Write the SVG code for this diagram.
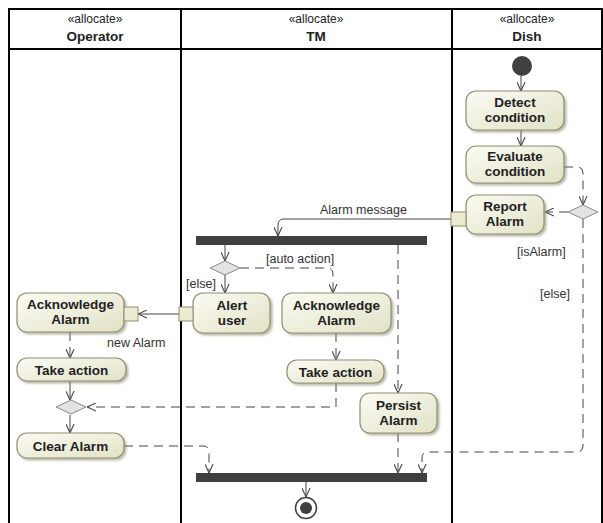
<svg xmlns="http://www.w3.org/2000/svg" width="603" height="523" viewBox="0 0 603 523">
<defs>
<linearGradient id="g" x1="0" y1="0" x2="1" y2="1">
<stop offset="0" stop-color="#fbfbf4"/>
<stop offset="1" stop-color="#e2e2c6"/>
</linearGradient>
<marker id="a" viewBox="0 0 10 10" refX="10" refY="5" markerWidth="9" markerHeight="9" markerUnits="userSpaceOnUse" orient="auto">
<path d="M0,0.5 L10,5 L0,9.5" fill="none" stroke="#444" stroke-width="1.2"/>
</marker>
<filter id="sh" x="-10%" y="-10%" width="130%" height="140%">
<feDropShadow dx="2" dy="2" stdDeviation="1" flood-color="#8a8a70" flood-opacity="0.6"/>
</filter>
</defs>
<style>
.frame{fill:none;stroke:#000;stroke-width:2}
.st{font-family:"Liberation Sans",Arial,sans-serif;font-size:12px;fill:#222;text-anchor:middle}
.ln{font-family:"Liberation Sans",Arial,sans-serif;font-size:13.5px;font-weight:bold;fill:#222;text-anchor:middle}
.act{fill:url(#g);stroke:#8f8f72;stroke-width:1.2;filter:url(#sh)}
.nt{font-family:"Liberation Sans",Arial,sans-serif;font-size:13.5px;font-weight:bold;fill:#222;text-anchor:middle}
.lbl{font-family:"Liberation Sans",Arial,sans-serif;font-size:12.5px;fill:#333}
.cf{fill:none;stroke:#444;stroke-width:1;stroke-dasharray:9,6}
.of{fill:none;stroke:#444;stroke-width:1}
.bar{fill:#404040}
.dec{fill:#e2e2e2;stroke:#8a8a8a;stroke-width:1}
.pin{fill:#ecebd2;stroke:#8f8f72;stroke-width:1}
</style>
<rect x="0" y="0" width="603" height="523" fill="#fff"/>
<g id="frame">
<path class="frame" d="M9,523 V9 H602 V523"/>
<line class="frame" x1="9" y1="49" x2="602" y2="49"/>
<line class="frame" x1="181" y1="9" x2="181" y2="523"/>
<line class="frame" x1="452" y1="9" x2="452" y2="523"/>
<text class="st" x="95" y="23">«allocate»</text>
<text class="ln" x="95" y="41">Operator</text>
<text class="st" x="316" y="23">«allocate»</text>
<text class="ln" x="316" y="41">TM</text>
<text class="st" x="527" y="23">«allocate»</text>
<text class="ln" x="527" y="41">Dish</text>
</g>
<g id="connectors">
<line class="of" x1="521" y1="76" x2="521" y2="91" marker-end="url(#a)"/>
<line class="of" x1="521" y1="130" x2="521" y2="146" marker-end="url(#a)"/>
<path class="cf" d="M564,167 H577 Q583,167 583,173 V205" marker-end="url(#a)"/>
<path class="cf" d="M568,212 H545" marker-end="url(#a)"/>
<path class="cf" d="M583,219 V446 Q583,452 577,452 H428 Q422,452 422,458 V473" marker-end="url(#a)"/>
<path class="of" d="M451,219 H284 Q278,219 278,225 V236" marker-end="url(#a)"/>
<line class="of" x1="225" y1="245" x2="225" y2="261" marker-end="url(#a)"/>
<path class="cf" d="M240,268 H327 Q333,268 333,274 V293" marker-end="url(#a)"/>
<line class="of" x1="225" y1="275" x2="225" y2="293" marker-end="url(#a)"/>
<line class="cf" x1="398" y1="245" x2="398" y2="393" marker-end="url(#a)"/>
<line class="of" x1="179" y1="314" x2="138" y2="314" marker-end="url(#a)"/>
<line class="cf" x1="70" y1="332" x2="70" y2="358" marker-end="url(#a)"/>
<line class="cf" x1="336" y1="333" x2="336" y2="360" marker-end="url(#a)"/>
<line class="of" x1="70" y1="381" x2="70" y2="400" marker-end="url(#a)"/>
<path class="cf" d="M336,383 V407 H87" marker-end="url(#a)"/>
<line class="of" x1="70" y1="415" x2="70" y2="433" marker-end="url(#a)"/>
<path class="cf" d="M124,446 H203 Q209,446 209,452 V473" marker-end="url(#a)"/>
<line class="cf" x1="398" y1="433" x2="398" y2="473" marker-end="url(#a)"/>
<line class="of" x1="306" y1="482" x2="306" y2="497" marker-end="url(#a)"/>
<text class="lbl" x="320" y="214">Alarm message</text>
<text class="lbl" x="266" y="263">[auto action]</text>
<text class="lbl" x="186" y="288">[else]</text>
<text class="lbl" x="107" y="347">new Alarm</text>
<text class="lbl" x="517" y="256">[isAlarm]</text>
<text class="lbl" x="540" y="298">[else]</text>
</g>
<g id="initial"><circle cx="522" cy="66" r="10" fill="#404040"/></g>
<g id="detect">
<rect class="act" x="466" y="91" width="98" height="39" rx="10"/>
<text class="nt" x="515" y="107">Detect</text>
<text class="nt" x="515" y="122">condition</text>
</g>
<g id="evaluate">
<rect class="act" x="466" y="146" width="98" height="37" rx="10"/>
<text class="nt" x="515" y="161">Evaluate</text>
<text class="nt" x="515" y="176">condition</text>
</g>
<g id="report">
<rect class="act" x="466" y="195" width="78" height="39" rx="10"/>
<rect class="pin" x="451" y="212" width="15" height="14"/>
<text class="nt" x="505" y="211">Report</text>
<text class="nt" x="505" y="226">Alarm</text>
</g>
<g id="dishDecision"><polygon class="dec" points="568,212 583,205 598,212 583,219"/></g>
<g id="forkBar"><rect class="bar" x="196" y="236" width="231" height="9"/></g>
<g id="tmDecision"><polygon class="dec" points="210,268 225,261 240,268 225,275"/></g>
<g id="alertUser">
<rect class="act" x="193" y="293" width="77" height="40" rx="10"/>
<rect class="pin" x="179" y="307" width="14" height="14"/>
<text class="nt" x="232" y="310">Alert</text>
<text class="nt" x="232" y="325">user</text>
</g>
<g id="ackTM">
<rect class="act" x="282" y="293" width="109" height="40" rx="10"/>
<text class="nt" x="336.5" y="310">Acknowledge</text>
<text class="nt" x="336.5" y="325">Alarm</text>
</g>
<g id="ackOp">
<rect class="act" x="17" y="293" width="107" height="39" rx="10"/>
<rect class="pin" x="124" y="307" width="14" height="14"/>
<text class="nt" x="70.5" y="309">Acknowledge</text>
<text class="nt" x="70.5" y="324">Alarm</text>
</g>
<g id="takeOp">
<rect class="act" x="17" y="358" width="109" height="23" rx="10"/>
<text class="nt" x="71.5" y="374.5">Take action</text>
</g>
<g id="takeTM">
<rect class="act" x="287" y="360" width="97" height="23" rx="10"/>
<text class="nt" x="335.5" y="376.5">Take action</text>
</g>
<g id="persist">
<rect class="act" x="360" y="393" width="77" height="40" rx="10"/>
<text class="nt" x="398.5" y="410">Persist</text>
<text class="nt" x="398.5" y="425">Alarm</text>
</g>
<g id="opDecision"><polygon class="dec" points="56,407 71,400 86,407 71,414"/></g>
<g id="clearAlarm">
<rect class="act" x="17" y="433" width="107" height="25" rx="10"/>
<text class="nt" x="70.5" y="450.5">Clear Alarm</text>
</g>
<g id="joinBar"><rect class="bar" x="196" y="473" width="231" height="9"/></g>
<g id="final">
<circle cx="306" cy="508" r="10.5" fill="#fff" stroke="#404040" stroke-width="1.5"/>
<circle cx="306" cy="508" r="6" fill="#404040"/>
</g>
</svg>
